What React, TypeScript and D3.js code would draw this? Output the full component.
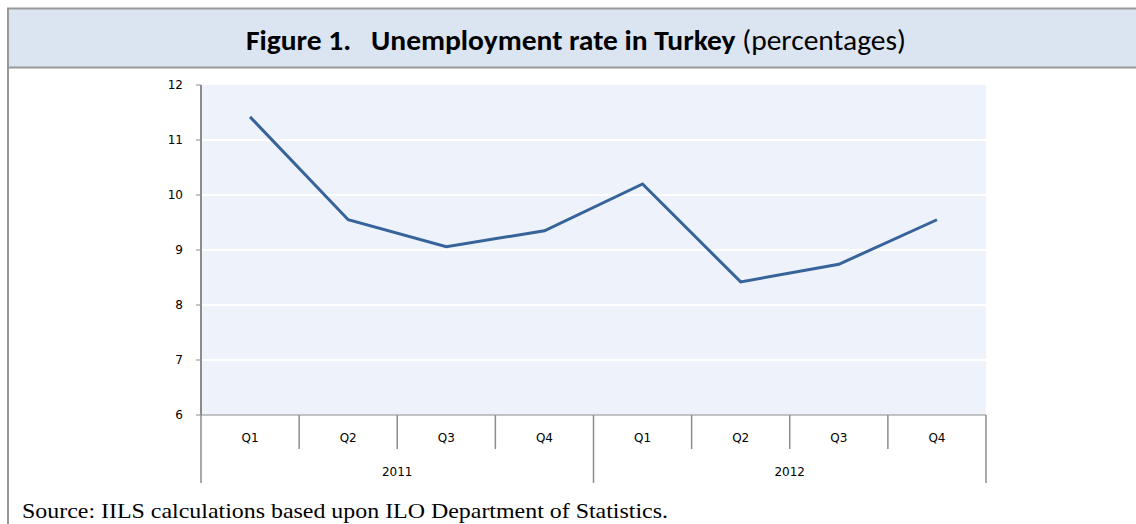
import React from "react";
import * as d3 from "d3";

const quarters = ["Q1", "Q2", "Q3", "Q4", "Q1", "Q2", "Q3", "Q4"];
const years = ["2011", "2012"];
const rates = [11.42, 9.55, 9.06, 9.35, 10.2, 8.42, 8.74, 9.55];
const yTicks = [6, 7, 8, 9, 10, 11, 12];

const W = 1136;
const H = 524;
const plot = { left: 201, right: 986, top: 85, bottom: 415 };

export default function App() {
  const idx = quarters.map((_, i) => String(i));
  const x = d3.scaleBand<string>().domain(idx).range([plot.left, plot.right]);
  const y = d3.scaleLinear().domain([6, 12]).range([plot.bottom, plot.top]);
  const line = d3
    .line<number>()
    .x((_, i) => (x(String(i)) as number) + x.bandwidth() / 2)
    .y((d) => y(d));
  const bw = x.bandwidth();
  const axisColor = "#8c8c8c";
  const tickFont = "'DejaVu Sans', Verdana, sans-serif";
  const tickSize = 12;

  return (
    <svg
      width={W}
      height={H}
      style={{ position: "absolute", left: 0, top: 0, background: "#fff" }}
    >
      {/* title frame */}
      <rect x={8} y={8.5} width={W} height={59} fill="#dbe5f1" stroke="#999" strokeWidth={2} />
      <line x1={8} x2={8} y1={8} y2={H} stroke="#999" strokeWidth={2} />
      <text
        x={246}
        y={50}
        textLength={660}
        lengthAdjust="spacingAndGlyphs"
        fontFamily="Carlito, Lato, 'Open Sans', sans-serif"
        fontSize={28.5}
        fill="#000"
      >
        <tspan fontWeight="bold">Figure 1.{"\u00a0\u00a0\u00a0"}Unemployment rate in Turkey</tspan>
        <tspan> (percentages)</tspan>
      </text>

      {/* plot background */}
      <rect
        x={plot.left}
        y={plot.top}
        width={plot.right - plot.left}
        height={plot.bottom - plot.top}
        fill="#eef2fa"
      />
      {yTicks.map((t) => (
        <g key={t}>
          {t > 6 && t < 12 && (
            <line x1={plot.left} x2={plot.right} y1={y(t)} y2={y(t)} stroke="#fff" strokeWidth={2} />
          )}
          <line x1={plot.left - 5} x2={plot.left} y1={y(t)} y2={y(t)} stroke={axisColor} strokeWidth={1} />
          <text
            x={183}
            y={y(t)}
            dy="0.35em"
            textAnchor="end"
            fontFamily={tickFont}
            fontSize={tickSize}
            fill="#000"
          >
            {t}
          </text>
        </g>
      ))}
      {/* axes */}
      <line x1={plot.left} x2={plot.left} y1={plot.top} y2={plot.bottom} stroke={axisColor} strokeWidth={2} />
      <line x1={plot.left} x2={plot.right} y1={plot.bottom} y2={plot.bottom} stroke={axisColor} strokeWidth={1} />

      {/* category separators */}
      {d3.range(quarters.length + 1).map((i) => {
        const xp = plot.left + i * bw;
        const long = i % 4 === 0;
        return (
          <line
            key={i}
            x1={xp}
            x2={xp}
            y1={plot.bottom}
            y2={long ? 483 : 449}
            stroke={axisColor}
            strokeWidth={1.5}
          />
        );
      })}
      {quarters.map((q, i) => (
        <text
          key={i}
          x={(x(String(i)) as number) + bw / 2}
          y={442}
          textAnchor="middle"
          fontFamily={tickFont}
          fontSize={tickSize}
          fill="#000"
        >
          {q}
        </text>
      ))}
      {years.map((yr, j) => (
        <text
          key={yr}
          x={plot.left + (j * 4 + 2) * bw}
          y={476}
          textAnchor="middle"
          fontFamily={tickFont}
          fontSize={tickSize}
          fill="#000"
        >
          {yr}
        </text>
      ))}

      {/* data line */}
      <path d={line(rates) || ""} fill="none" stroke="#36639a" strokeWidth={3} strokeLinejoin="miter" />

      {/* source */}
      <text
        x={22}
        y={518}
        textLength={646}
        lengthAdjust="spacingAndGlyphs"
        fontFamily="'Liberation Serif', 'Times New Roman', serif"
        fontSize={22}
        fill="#000"
      >
        Source: IILS calculations based upon ILO Department of Statistics.
      </text>
    </svg>
  );
}
